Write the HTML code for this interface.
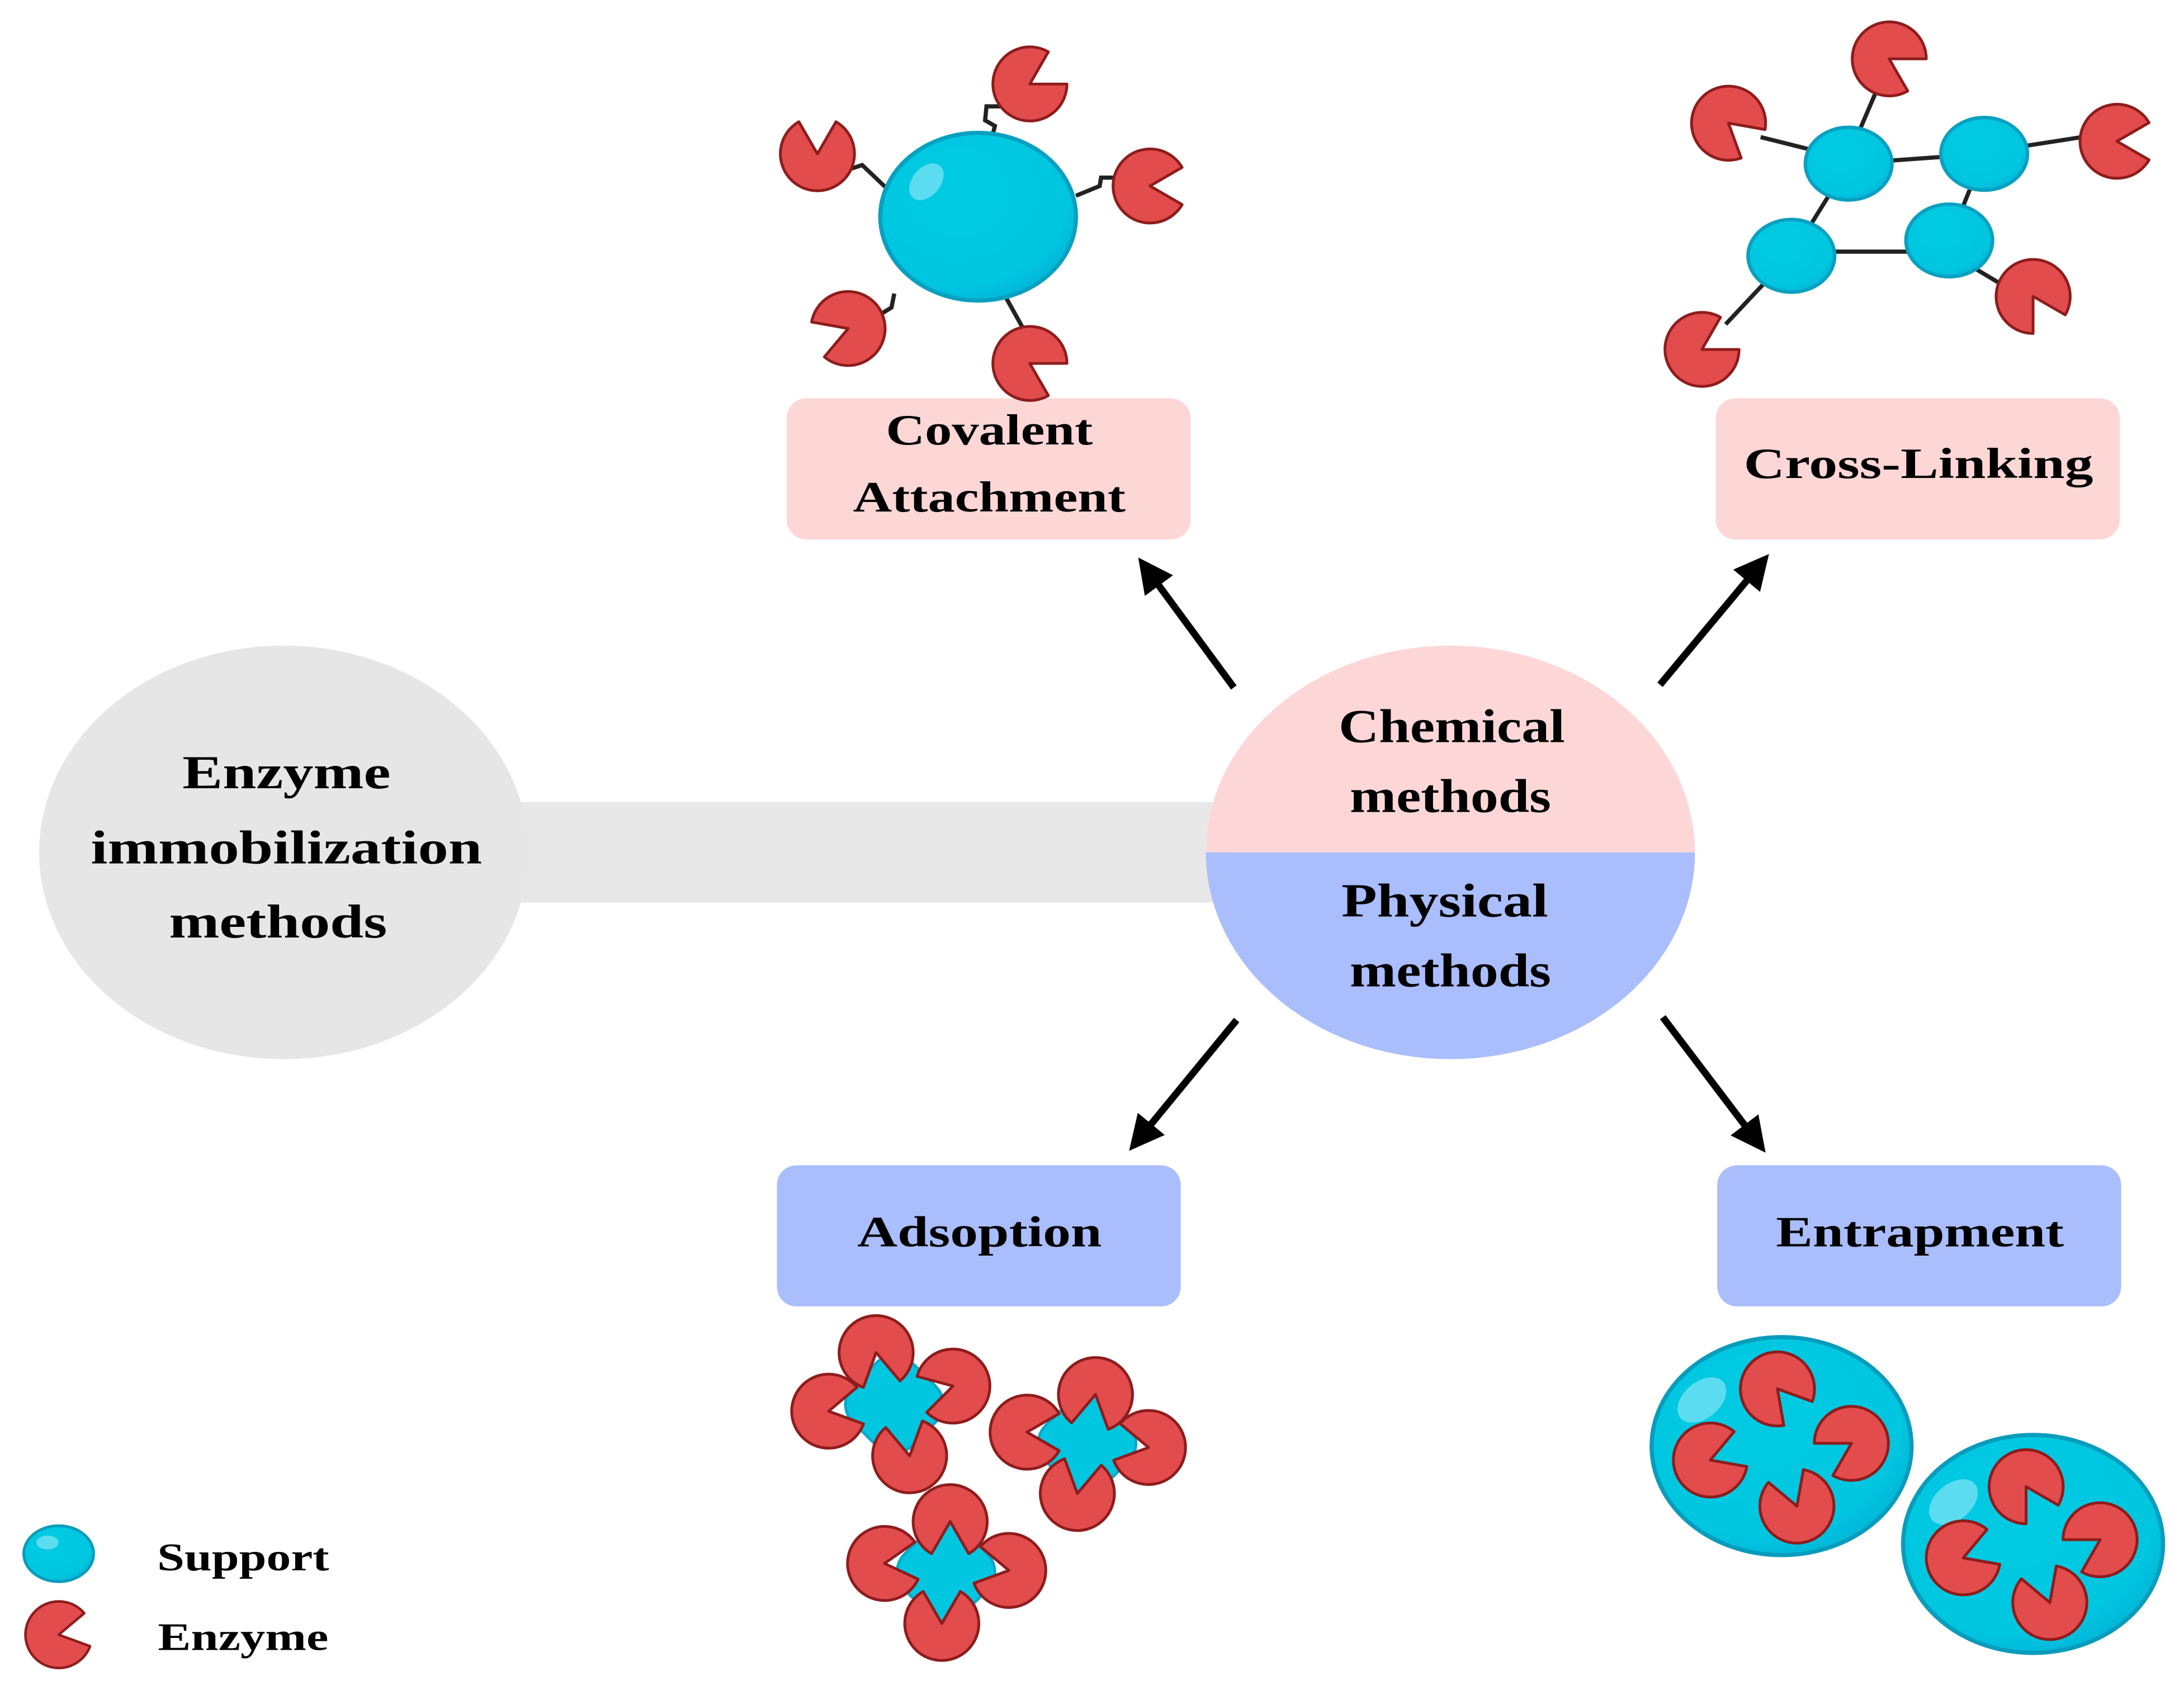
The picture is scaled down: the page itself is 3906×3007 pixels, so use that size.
<!DOCTYPE html>
<html><head><meta charset="utf-8"><style>
html,body{margin:0;padding:0;background:#fff}
svg{display:block}
text{font-family:"Liberation Serif",serif;font-weight:bold;fill:#000;text-anchor:middle}
</style></head><body>
<svg width="3906" height="3007" viewBox="0 0 1563 1203" xmlns="http://www.w3.org/2000/svg">
<defs>
<g id="pm"><path d="M0,0 L23,-13.3 A26.5 26.5 0 1 0 23,13.3 Z" fill="#e24c4c" stroke="#8e1c1c" stroke-width="2" stroke-linejoin="round"/></g>
<marker id="ah" viewBox="0 0 10 10" refX="5" refY="5" markerWidth="5" markerHeight="5" orient="auto"><path d="M0,0 L10,5 L0,10 Z" fill="#000"/></marker>
<radialGradient id="cy" cx="0.4" cy="0.35" r="0.7"><stop offset="0" stop-color="#00cbe3"/><stop offset="0.8" stop-color="#00c6e0"/><stop offset="1" stop-color="#00b4d8"/></radialGradient>
</defs>

<rect x="360" y="574" width="520" height="72" fill="#e8e8e8"/>
<ellipse cx="203" cy="610" rx="175" ry="148" fill="#e6e6e6"/>
<text x="205" y="564" font-size="34" textLength="149" lengthAdjust="spacingAndGlyphs">Enzyme</text>
<text x="205" y="618" font-size="34" textLength="280" lengthAdjust="spacingAndGlyphs">immobilization</text>
<text x="199" y="671" font-size="34" textLength="156" lengthAdjust="spacingAndGlyphs">methods</text>

<path d="M863,610 A175 148 0 0 1 1213,610 Z" fill="#fdd7d7"/>
<path d="M863,610 A175 148 0 0 0 1213,610 Z" fill="#aabdfd"/>
<text x="1039" y="531" font-size="34" textLength="162" lengthAdjust="spacingAndGlyphs">Chemical</text>
<text x="1038" y="581" font-size="34" textLength="144" lengthAdjust="spacingAndGlyphs">methods</text>
<text x="1034" y="656" font-size="34" textLength="148" lengthAdjust="spacingAndGlyphs">Physical</text>
<text x="1038" y="706" font-size="34" textLength="144" lengthAdjust="spacingAndGlyphs">methods</text>

<rect x="563" y="285" width="289" height="101" rx="14" fill="#fdd6d6"/>
<text x="708" y="318" font-size="31" textLength="148" lengthAdjust="spacingAndGlyphs">Covalent</text>
<text x="708" y="366" font-size="31" textLength="195" lengthAdjust="spacingAndGlyphs">Attachment</text>
<rect x="1228" y="285" width="289" height="101" rx="14" fill="#fdd6d6"/>
<text x="1373" y="342" font-size="31" textLength="250" lengthAdjust="spacingAndGlyphs">Cross-Linking</text>
<rect x="556" y="834" width="289" height="101" rx="14" fill="#aabdfd"/>
<text x="701" y="892" font-size="31" textLength="175" lengthAdjust="spacingAndGlyphs">Adsoption</text>
<rect x="1229" y="834" width="289" height="101" rx="14" fill="#aabdfd"/>
<text x="1374" y="892" font-size="31" textLength="206" lengthAdjust="spacingAndGlyphs">Entrapment</text>

<g stroke="#000" stroke-width="5" marker-end="url(#ah)">
<line x1="883" y1="492" x2="822" y2="409"/>
<line x1="1188" y1="490" x2="1258" y2="406"/>
<line x1="885" y1="730" x2="816" y2="814"/>
<line x1="1190" y1="728" x2="1256" y2="815"/>
</g>

<g stroke="#222" stroke-width="3" fill="none">
<path d="M605,122 L617,118 L636,136"/>
<path d="M710,98 L712,90 L705,86 L706,76 L718,76"/>
<path d="M770,140 L787,133 L788,127 L800,127"/>
<path d="M640,210 L638,220 L625,228"/>
<path d="M720,213 L735,240"/>
</g>
<ellipse cx="700" cy="155" rx="70" ry="60" fill="url(#cy)" stroke="#0aa0c0" stroke-width="3"/>
<ellipse cx="663" cy="130" rx="15" ry="10" transform="rotate(-50 663 130)" fill="#5cdcf0"/>
<use href="#pm" transform="translate(585,110) rotate(-90)"/>
<use href="#pm" transform="translate(737,60) rotate(-30)"/>
<use href="#pm" transform="translate(823,133) rotate(0)"/>
<use href="#pm" transform="translate(607,235) rotate(160)"/>
<use href="#pm" transform="translate(737,260) rotate(30)"/>

<g stroke="#222" stroke-width="3">
<line x1="1323" y1="117" x2="1420" y2="110"/>
<line x1="1323" y1="117" x2="1282" y2="183"/>
<line x1="1420" y1="110" x2="1395" y2="172"/>
<line x1="1282" y1="180" x2="1395" y2="180"/>
<line x1="1260" y1="98" x2="1300" y2="108"/>
<line x1="1345" y1="60" x2="1330" y2="95"/>
<line x1="1445" y1="105" x2="1490" y2="98"/>
<line x1="1410" y1="190" x2="1435" y2="205"/>
<line x1="1265" y1="200" x2="1235" y2="232"/>
</g>
<g fill="url(#cy)" stroke="#0aa0c0" stroke-width="2.5">
<ellipse cx="1323" cy="117" rx="31" ry="26"/>
<ellipse cx="1420" cy="110" rx="31" ry="26"/>
<ellipse cx="1282" cy="183" rx="31" ry="26"/>
<ellipse cx="1395" cy="172" rx="31" ry="26"/>
</g>
<use href="#pm" transform="translate(1237,88) rotate(40)"/>
<use href="#pm" transform="translate(1352,42) rotate(30)"/>
<use href="#pm" transform="translate(1515,101) rotate(0)"/>
<use href="#pm" transform="translate(1455,212) rotate(60)"/>
<use href="#pm" transform="translate(1218,250) rotate(-30)"/>

<rect x="610" y="975" width="60" height="60" rx="18" transform="rotate(45 640 1005)" fill="#00c6e0" stroke="#0aa8c8" stroke-width="2"/>
<use href="#pm" transform="translate(627,968) rotate(80)"/>
<use href="#pm" transform="translate(682,992) rotate(165)"/>
<use href="#pm" transform="translate(593,1010) rotate(-10)"/>
<use href="#pm" transform="translate(651,1042) rotate(-100)"/>
<rect x="748" y="1003" width="60" height="60" rx="18" transform="rotate(45 778 1033)" fill="#00c6e0" stroke="#0aa8c8" stroke-width="2"/>
<use href="#pm" transform="translate(784,998) rotate(100)"/>
<use href="#pm" transform="translate(822,1036) rotate(190)"/>
<use href="#pm" transform="translate(735,1025) rotate(0)"/>
<use href="#pm" transform="translate(771,1069) rotate(-80)"/>
<rect x="647" y="1095" width="60" height="60" rx="18" transform="rotate(45 677 1125)" fill="#00c6e0" stroke="#0aa8c8" stroke-width="2"/>
<use href="#pm" transform="translate(680,1089) rotate(90)"/>
<use href="#pm" transform="translate(722,1124) rotate(190)"/>
<use href="#pm" transform="translate(633,1119) rotate(-5)"/>
<use href="#pm" transform="translate(674,1162) rotate(-90)"/>

<ellipse cx="1275" cy="1035" rx="93" ry="78" fill="url(#cy)" stroke="#0a9cbc" stroke-width="3"/>
<ellipse cx="1218" cy="1002" rx="20" ry="13" transform="rotate(-40 1218 1002)" fill="#5cdcf0"/>
<use href="#pm" transform="translate(1272,994) rotate(50)"/>
<use href="#pm" transform="translate(1325,1033) rotate(150)"/>
<use href="#pm" transform="translate(1224,1045) rotate(-20)"/>
<use href="#pm" transform="translate(1286,1078) rotate(-110)"/>
<ellipse cx="1455" cy="1105" rx="93" ry="78" fill="url(#cy)" stroke="#0a9cbc" stroke-width="3"/>
<ellipse cx="1398" cy="1075" rx="20" ry="13" transform="rotate(-40 1398 1075)" fill="#5cdcf0"/>
<use href="#pm" transform="translate(1450,1064) rotate(60)"/>
<use href="#pm" transform="translate(1503,1102) rotate(150)"/>
<use href="#pm" transform="translate(1405,1115) rotate(-20)"/>
<use href="#pm" transform="translate(1467,1147) rotate(-110)"/>

<ellipse cx="42" cy="1112" rx="25" ry="20" fill="url(#cy)" stroke="#0a9cbc" stroke-width="2"/>
<ellipse cx="34" cy="1104" rx="8" ry="5" fill="#5cdcf0"/>
<text x="174" y="1124" font-size="28" textLength="123" lengthAdjust="spacingAndGlyphs">Support</text>
<use href="#pm" transform="translate(42,1170) rotate(-10) scale(0.9)"/>
<text x="174" y="1181" font-size="28" textLength="122" lengthAdjust="spacingAndGlyphs">Enzyme</text>
</svg>
</body></html>
